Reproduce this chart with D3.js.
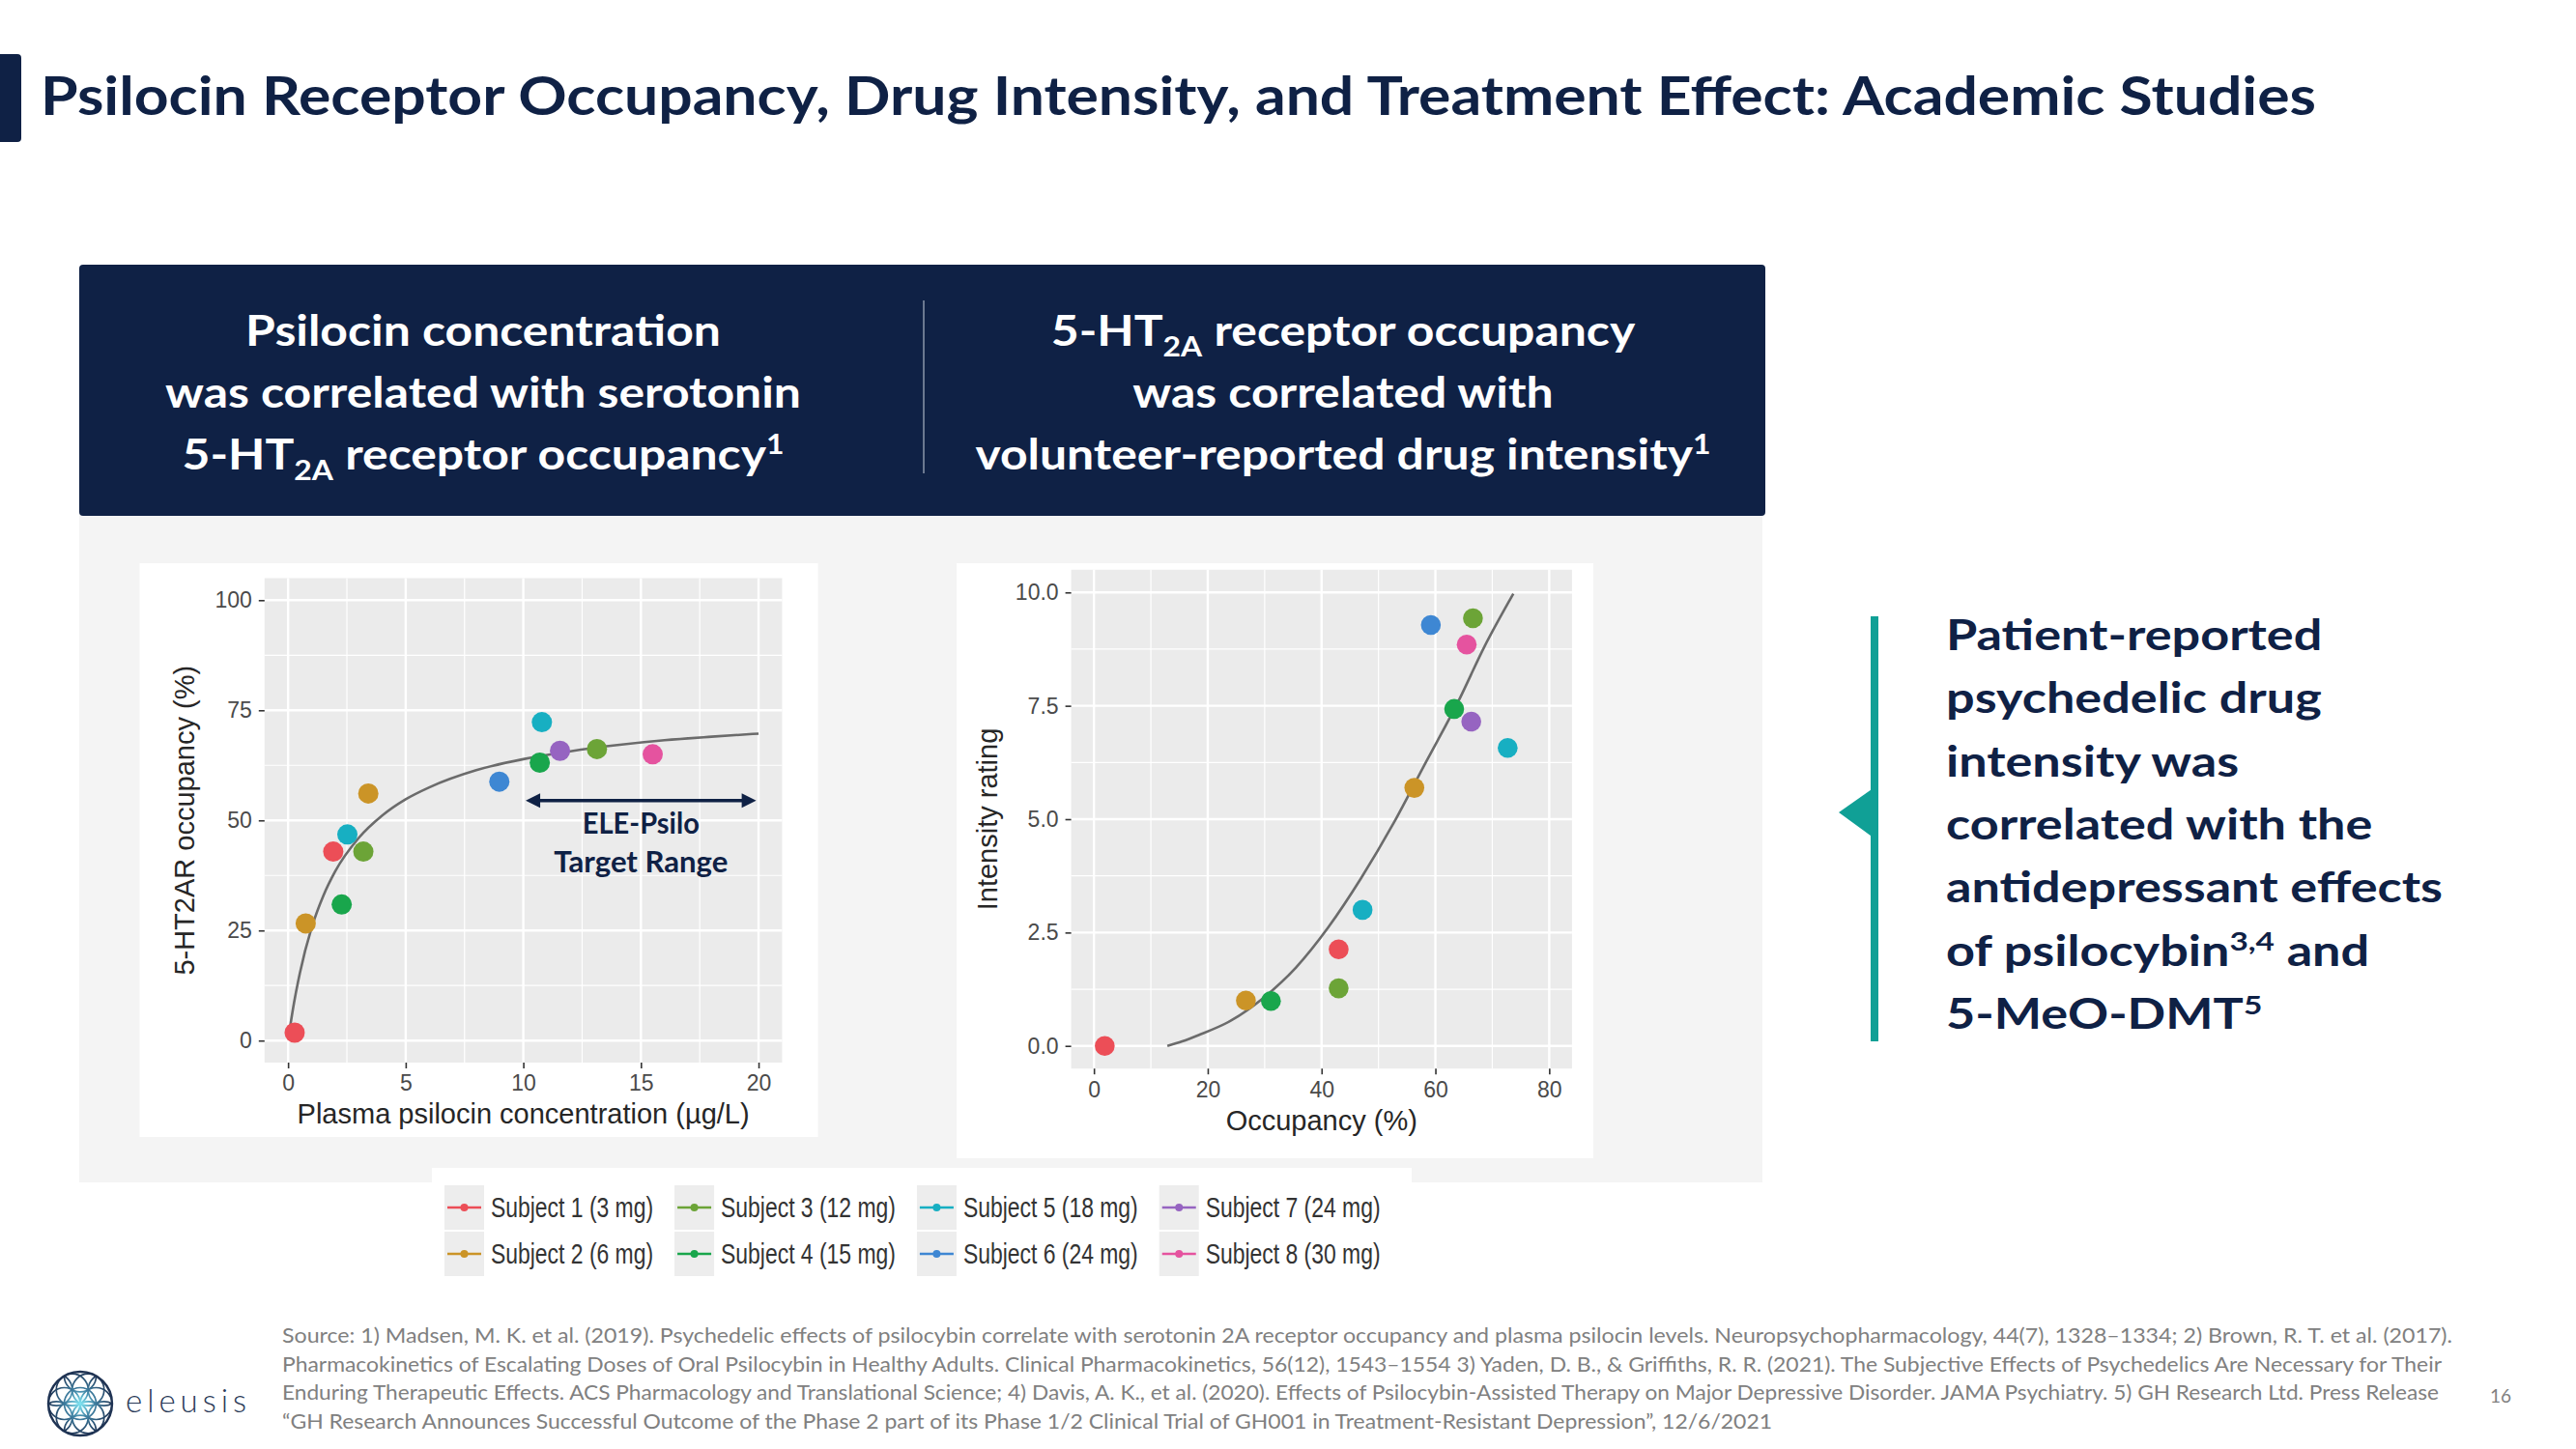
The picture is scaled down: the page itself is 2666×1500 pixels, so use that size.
<!DOCTYPE html>
<html><head><meta charset="utf-8">
<script src="https://cdn.jsdelivr.net/npm/d3@7"></script>
<style>
html,body{margin:0;padding:0;background:#fff;}
svg{display:block;}
</style></head><body>
<svg id="chart" width="2666" height="1500"></svg>
<script>
// ---------------- DATA ----------------
const subjects = ["Subject 1 (3 mg)", "Subject 2 (6 mg)", "Subject 3 (12 mg)", "Subject 4 (15 mg)",
                  "Subject 5 (18 mg)", "Subject 6 (24 mg)", "Subject 7 (24 mg)", "Subject 8 (30 mg)"];
const subjectColors = ["#EC4E57", "#CB9427", "#6CA437", "#19A64C", "#17AFC2", "#3E87D3", "#9664C1", "#E5539F"];

// Chart 1: plasma psilocin concentration vs 5-HT2AR occupancy
const conc1Subject = [0, 0, 1, 1, 2, 2, 3, 3, 4, 4, 5, 6, 7];
const conc1Values  = [0.28, 1.92, 0.75, 3.41, 3.2, 13.13, 2.28, 10.7, 2.52, 10.79, 8.98, 11.56, 15.5];
const occ1Values   = [1.8, 42.9, 26.6, 56.1, 42.9, 66.2, 30.9, 63.1, 46.8, 72.3, 58.8, 65.8, 65.0];
const fit1X = [0.05, 0.25, 0.5, 1, 1.5, 2, 3, 4, 5, 6, 8, 10, 12, 14, 16, 18, 20];
const fit1Y = [1.9, 8.5, 15.3, 25.6, 32.9, 38.4, 46.0, 51.1, 54.8, 57.5, 61.4, 63.9, 65.7, 67.1, 68.2, 69.0, 69.7];
const ticks1X = [0, 5, 10, 15, 20];
const ticks1Y = [0, 25, 50, 75, 100];
const targetRange = [10.1, 19.9];
const targetRangeY = 54.5;
const targetLabel = ["ELE-Psilo", "Target Range"];

// Chart 2: occupancy vs intensity rating
const occ2Subject = [0, 0, 1, 1, 2, 2, 3, 3, 4, 4, 5, 6, 7];
const occ2Values  = [1.9, 43.0, 26.7, 56.3, 43.0, 66.6, 31.1, 63.3, 47.2, 72.7, 59.2, 66.3, 65.5];
const intensityValues = [0.0, 2.13, 1.0, 5.69, 1.27, 9.43, 0.99, 7.43, 3.0, 6.57, 9.28, 7.15, 8.85];
const fit2X = [12.9, 15.5, 18.4, 24.1, 29.8, 35.5, 41.2, 46.9, 52.6, 58.3, 64.0, 68.6, 73.7];
const fit2Y = [0.0, 0.1, 0.24, 0.56, 1.06, 1.73, 2.62, 3.69, 4.90, 6.25, 7.59, 8.80, 9.97];
const ticks2X = [0, 20, 40, 60, 80];
const ticks2Y = [0, 2.5, 5, 7.5, 10];

// Texts
const titleText = "Psilocin Receptor Occupancy, Drug Intensity, and Treatment Effect: Academic Studies";
const headerLeft = [
  [{t: "Psilocin concentration"}],
  [{t: "was correlated with serotonin"}],
  [{t: "5-HT"}, {t: "2A", sub: true}, {t: " receptor occupancy"}, {t: "1", sup: true}]
];
const headerRight = [
  [{t: "5-HT"}, {t: "2A", sub: true}, {t: " receptor occupancy"}],
  [{t: "was correlated with"}],
  [{t: "volunteer-reported drug intensity"}, {t: "1", sup: true}]
];
const sideText = [
  [{t: "Patient-reported"}],
  [{t: "psychedelic drug"}],
  [{t: "intensity was"}],
  [{t: "correlated with the"}],
  [{t: "antidepressant effects"}],
  [{t: "of psilocybin"}, {t: "3,4", sup: true}, {t: " and"}],
  [{t: "5-MeO-DMT"}, {t: "5", sup: true}]
];
const sourceLines = [
  "Source: 1) Madsen, M. K. et al. (2019). Psychedelic effects of psilocybin correlate with serotonin 2A receptor occupancy and plasma psilocin levels. Neuropsychopharmacology, 44(7), 1328\u20131334; 2) Brown, R. T. et al. (2017).",
  "Pharmacokinetics of Escalating Doses of Oral Psilocybin in Healthy Adults. Clinical Pharmacokinetics, 56(12), 1543\u20131554 3) Yaden, D. B., & Griffiths, R. R. (2021). The Subjective Effects of Psychedelics Are Necessary for Their",
  "Enduring Therapeutic Effects. ACS Pharmacology and Translational Science; 4) Davis, A. K., et al. (2020). Effects of Psilocybin-Assisted Therapy on Major Depressive Disorder. JAMA Psychiatry. 5) GH Research Ltd. Press Release",
  "\u201CGH Research Announces Successful Outcome of the Phase 2 part of its Phase 1/2 Clinical Trial of GH001 in Treatment-Resistant Depression\u201D, 12/6/2021"
];
const sourceWidths = [2246, 2235, 2232, 1542];
const pageNumber = "16";

// ---------------- STYLE ----------------
const NAVY = "#0f2145";
const TEAL = "#10A096";
const FONT_UI = "Lato, 'Open Sans', 'Noto Sans', sans-serif";
const FONT_CHART = "'Liberation Sans', Arial, sans-serif";

const svg = d3.select("#chart");

function squeezeTo(el, target) {
  const w = el.getComputedTextLength();
  el.setAttribute("textLength", target);
  el.setAttribute("lengthAdjust", "spacingAndGlyphs");
  return target / w;
}
function squeezeBy(el, f) {
  const w = el.getComputedTextLength();
  el.setAttribute("textLength", w * f);
  el.setAttribute("lengthAdjust", "spacingAndGlyphs");
  return w * f;
}
function richText(parent, x, y, segs, size, anchor, fill, weight) {
  const t = parent.append("text").attr("x", x).attr("y", y)
    .attr("text-anchor", anchor).attr("font-family", FONT_UI)
    .attr("font-weight", weight).attr("font-size", size).attr("fill", fill);
  let shift = 0;
  segs.forEach(s => {
    const ts = t.append("tspan").text(s.t);
    const target = s.sub ? size * 0.26 : (s.sup ? -size * 0.36 : 0);
    const dy = target - shift; shift = target;
    if (dy) ts.attr("dy", dy);
    if (s.sub || s.sup) ts.attr("font-size", size * 0.64);
  });
  return t;
}

function draw() {
  svg.append("rect").attr("width", 2666).attr("height", 1500).attr("fill", "#fff");

  // Title
  svg.append("rect").attr("x", -6).attr("y", 56).attr("width", 28).attr("height", 91).attr("rx", 4).attr("fill", NAVY);
  const title = svg.append("text").attr("x", 42).attr("y", 119)
    .attr("font-family", FONT_UI).attr("font-weight", 700).attr("font-size", 55)
    .attr("fill", NAVY).text(titleText);
  squeezeTo(title.node(), 2355);

  // Grey background area and header box
  svg.append("rect").attr("x", 82).attr("y", 530).attr("width", 1742).attr("height", 694).attr("fill", "#F4F4F4");
  svg.append("rect").attr("x", 82).attr("y", 274).attr("width", 1745).attr("height", 260).attr("rx", 4).attr("fill", NAVY);
  svg.append("line").attr("x1", 956).attr("x2", 956).attr("y1", 311).attr("y2", 490)
    .attr("stroke", "#8b96aa").attr("stroke-width", 1.5);

  const hdr = svg.append("g");
  const hBase = [358, 422, 486];
  const refT = richText(hdr, 500, hBase[1], headerLeft[1], 44, "middle", "#fff", 700);
  const hf = squeezeTo(refT.node(), 658);
  [0, 2].forEach(i => squeezeBy(richText(hdr, 500, hBase[i], headerLeft[i], 44, "middle", "#fff", 700).node(), hf));
  [0, 1, 2].forEach(i => squeezeBy(richText(hdr, 1390, hBase[i], headerRight[i], 44, "middle", "#fff", 700).node(), hf));

  // Chart white boxes
  svg.append("rect").attr("x", 144.5).attr("y", 583).attr("width", 702).attr("height", 594).attr("fill", "#fff");
  svg.append("rect").attr("x", 990).attr("y", 583).attr("width", 659).attr("height", 616).attr("fill", "#fff");

  function panel(cfg) {
    const x = d3.scaleLinear().domain(cfg.xDomain).range([cfg.left, cfg.right]);
    const y = d3.scaleLinear().domain(cfg.yDomain).range([cfg.bottom, cfg.top]);
    const g = svg.append("g");
    g.append("rect").attr("x", cfg.left).attr("y", cfg.top)
      .attr("width", cfg.right - cfg.left).attr("height", cfg.bottom - cfg.top).attr("fill", "#EBEBEB");
    const minorX = d3.pairs(cfg.xTicks).map(([a, b]) => (a + b) / 2);
    const minorY = d3.pairs(cfg.yTicks).map(([a, b]) => (a + b) / 2);
    g.selectAll(".mnx").data(minorX).join("line").attr("x1", d => x(d)).attr("x2", d => x(d))
      .attr("y1", cfg.top).attr("y2", cfg.bottom).attr("stroke", "#fff").attr("stroke-width", 1.2);
    g.selectAll(".mny").data(minorY).join("line").attr("y1", d => y(d)).attr("y2", d => y(d))
      .attr("x1", cfg.left).attr("x2", cfg.right).attr("stroke", "#fff").attr("stroke-width", 1.2);
    g.selectAll(".mjx").data(cfg.xTicks).join("line").attr("x1", d => x(d)).attr("x2", d => x(d))
      .attr("y1", cfg.top).attr("y2", cfg.bottom).attr("stroke", "#fff").attr("stroke-width", 2.4);
    g.selectAll(".mjy").data(cfg.yTicks).join("line").attr("y1", d => y(d)).attr("y2", d => y(d))
      .attr("x1", cfg.left).attr("x2", cfg.right).attr("stroke", "#fff").attr("stroke-width", 2.4);

    const ax = g.append("g").attr("transform", `translate(0,${cfg.bottom})`)
      .call(d3.axisBottom(x).tickValues(cfg.xTicks).tickSize(6).tickPadding(7).tickFormat(cfg.xFmt));
    const ay = g.append("g").attr("transform", `translate(${cfg.left},0)`)
      .call(d3.axisLeft(y).tickValues(cfg.yTicks).tickSize(6).tickPadding(7).tickFormat(cfg.yFmt));
    [ax, ay].forEach(a => {
      a.select(".domain").remove();
      a.attr("font-family", FONT_CHART).attr("font-size", 23);
      a.selectAll("line").attr("stroke", "#333").attr("stroke-width", 1.6);
      a.selectAll("text").attr("fill", "#4a4a4a");
    });
    g.append("text").attr("x", (cfg.left + cfg.right) / 2).attr("y", cfg.xTitleY).attr("dy", "0.35em")
      .attr("text-anchor", "middle").attr("font-family", FONT_CHART).attr("font-size", 29)
      .attr("fill", "#262626").text(cfg.xTitle);
    g.append("text").attr("transform", `translate(${cfg.yTitleX},${(cfg.top + cfg.bottom) / 2}) rotate(-90)`)
      .attr("dy", "0.35em").attr("text-anchor", "middle").attr("font-family", FONT_CHART).attr("font-size", 29)
      .attr("fill", "#262626").text(cfg.yTitle);
    return {x, y, g};
  }

  // ---- Chart 1 ----
  const c1 = panel({
    xDomain: [-1, 21], yDomain: [-5, 105], left: 273.8, right: 809.4, top: 598.5, bottom: 1100,
    xTicks: ticks1X, yTicks: ticks1Y, xFmt: d3.format("d"), yFmt: d3.format("d"),
    xTitle: "Plasma psilocin concentration (\u00B5g/L)", yTitle: "5-HT2AR occupancy (%)",
    xTitleY: 1153, yTitleX: 191
  });
  c1.g.append("path").datum(d3.zip(fit1X, fit1Y))
    .attr("d", d3.line().x(d => c1.x(d[0])).y(d => c1.y(d[1])).curve(d3.curveMonotoneX))
    .attr("fill", "none").attr("stroke", "#6b6b6b").attr("stroke-width", 2.6);
  c1.g.selectAll(".pt").data(d3.range(conc1Values.length)).join("circle")
    .attr("cx", i => c1.x(conc1Values[i])).attr("cy", i => c1.y(occ1Values[i])).attr("r", 10.5)
    .attr("fill", i => subjectColors[conc1Subject[i]]);
  // target range arrow
  const ax1 = c1.x(targetRange[0]), ax2 = c1.x(targetRange[1]), ay = c1.y(targetRangeY);
  c1.g.append("line").attr("x1", ax1 + 10).attr("x2", ax2 - 10).attr("y1", ay).attr("y2", ay)
    .attr("stroke", NAVY).attr("stroke-width", 3.5);
  c1.g.append("path").attr("d", `M${ax1},${ay} L${ax1 + 15},${ay - 7.5} L${ax1 + 15},${ay + 7.5} Z`).attr("fill", NAVY);
  c1.g.append("path").attr("d", `M${ax2},${ay} L${ax2 - 15},${ay - 7.5} L${ax2 - 15},${ay + 7.5} Z`).attr("fill", NAVY);
  const lblX = c1.x((targetRange[0] + targetRange[1]) / 2);
  const l1 = c1.g.append("text").attr("x", lblX).attr("y", c1.y(49.3)).attr("dy", "0.36em")
    .attr("text-anchor", "middle").attr("font-family", FONT_UI).attr("font-weight", 700)
    .attr("font-size", 30).attr("fill", NAVY).text(targetLabel[0]);
  squeezeTo(l1.node(), 121);
  const l2 = c1.g.append("text").attr("x", lblX).attr("y", c1.y(40.5)).attr("dy", "0.36em")
    .attr("text-anchor", "middle").attr("font-family", FONT_UI).attr("font-weight", 700)
    .attr("font-size", 30).attr("fill", NAVY).text(targetLabel[1]);
  squeezeTo(l2.node(), 180);

  // ---- Chart 2 ----
  const c2 = panel({
    xDomain: [-4, 84], yDomain: [-0.5, 10.5], left: 1108.6, right: 1626.9, top: 589.8, bottom: 1106.2,
    xTicks: ticks2X, yTicks: ticks2Y, xFmt: d3.format("d"), yFmt: d3.format(".1f"),
    xTitle: "Occupancy (%)", yTitle: "Intensity rating",
    xTitleY: 1160, yTitleX: 1022
  });
  c2.g.append("path").datum(d3.zip(fit2X, fit2Y))
    .attr("d", d3.line().x(d => c2.x(d[0])).y(d => c2.y(d[1])).curve(d3.curveMonotoneX))
    .attr("fill", "none").attr("stroke", "#6b6b6b").attr("stroke-width", 2.6);
  c2.g.selectAll(".pt").data(d3.range(occ2Values.length)).join("circle")
    .attr("cx", i => c2.x(occ2Values[i])).attr("cy", i => c2.y(intensityValues[i])).attr("r", 10.3)
    .attr("fill", i => subjectColors[occ2Subject[i]]);

  // ---- Legend ----
  svg.append("rect").attr("x", 447).attr("y", 1209).attr("width", 1014).attr("height", 117).attr("fill", "#fff");
  const lg = svg.append("g");
  const keyW = 41, keyH = 46, rowTop = [1227, 1275];
  let kx = 460;
  for (let c = 0; c < 4; c++) {
    let maxW = 0;
    [0, 1].forEach(r => {
      const i = c * 2 + r;
      const ky = rowTop[r];
      lg.append("rect").attr("x", kx).attr("y", ky).attr("width", keyW).attr("height", keyH).attr("fill", "#EDEDED");
      lg.append("line").attr("x1", kx + 3).attr("x2", kx + keyW - 3).attr("y1", ky + keyH / 2).attr("y2", ky + keyH / 2)
        .attr("stroke", subjectColors[i]).attr("stroke-width", 2.6);
      lg.append("circle").attr("cx", kx + keyW / 2).attr("cy", ky + keyH / 2).attr("r", 4).attr("fill", subjectColors[i]);
      const t = lg.append("text").attr("x", kx + keyW + 7).attr("y", ky + keyH / 2 + 10)
        .attr("font-family", FONT_CHART).attr("font-size", 29).attr("fill", "#333").text(subjects[i]);
      maxW = Math.max(maxW, squeezeBy(t.node(), 0.79));
    });
    kx += keyW + 7 + maxW + 22;
  }

  // ---- Side text ----
  svg.append("rect").attr("x", 1936).attr("y", 638).attr("width", 8).attr("height", 440).attr("fill", TEAL);
  svg.append("path").attr("d", "M1903,841 L1940,815 L1940,868 Z").attr("fill", TEAL);
  const side = svg.append("g");
  const sRef = richText(side, 2014, 672.7 + 4 * 65.4, sideText[4], 43, "start", NAVY, 700);
  const sf = squeezeTo(sRef.node(), 514);
  sideText.forEach((segs, i) => {
    if (i === 4) return;
    squeezeBy(richText(side, 2014, 672.7 + i * 65.4, segs, 43, "start", NAVY, 700).node(), sf);
  });

  // ---- Source footnote ----
  const src = svg.append("g");
  const s0 = src.append("text").attr("x", 292).attr("y", 1390).attr("font-family", FONT_UI)
    .attr("font-size", 21).attr("fill", "#808080").text(sourceLines[0]);
  squeezeTo(s0.node(), sourceWidths[0]);
  sourceLines.slice(1).forEach((s, i) => {
    const t = src.append("text").attr("x", 292).attr("y", 1390 + (i + 1) * 29.6).attr("font-family", FONT_UI)
      .attr("font-size", 21).attr("fill", "#808080").text(s);
    squeezeTo(t.node(), sourceWidths[i + 1]);
  });
  svg.append("text").attr("x", 2588).attr("y", 1452).attr("text-anchor", "middle").attr("font-family", FONT_UI)
    .attr("font-size", 19).attr("fill", "#808080").text(pageNumber);

  // ---- Logo ----
  const defs = svg.append("defs");
  const rg = defs.append("radialGradient").attr("id", "logoGrad").attr("gradientUnits", "userSpaceOnUse")
    .attr("cx", 0).attr("cy", 0).attr("r", 34);
  rg.append("stop").attr("offset", "0%").attr("stop-color", "#7fe6f3");
  rg.append("stop").attr("offset", "45%").attr("stop-color", "#3d7d9f");
  rg.append("stop").attr("offset", "100%").attr("stop-color", "#1f3353");
  const gl = defs.append("radialGradient").attr("id", "logoGlow");
  gl.append("stop").attr("offset", "0%").attr("stop-color", "#b8f6ff").attr("stop-opacity", 0.9);
  gl.append("stop").attr("offset", "100%").attr("stop-color", "#b8f6ff").attr("stop-opacity", 0);
  defs.append("clipPath").attr("id", "logoClip").append("circle").attr("r", 33);
  const logo = svg.append("g").attr("transform", "translate(83,1453)");
  logo.append("circle").attr("r", 11).attr("fill", "url(#logoGlow)");
  const petals = logo.append("g").attr("clip-path", "url(#logoClip)");
  const R = 33, r = R / 2;
  const centers = [[0, 0]].concat(d3.range(6).map(k => [r * Math.cos(k * Math.PI / 3), r * Math.sin(k * Math.PI / 3)]))
    .concat(d3.range(6).map(k => [r * Math.sqrt(3) * Math.cos(Math.PI / 6 + k * Math.PI / 3), r * Math.sqrt(3) * Math.sin(Math.PI / 6 + k * Math.PI / 3)]));
  petals.selectAll("circle").data(centers).join("circle").attr("cx", d => d[0]).attr("cy", d => d[1]).attr("r", r)
    .attr("fill", "none").attr("stroke", "url(#logoGrad)").attr("stroke-width", 1.7);
  logo.append("circle").attr("r", R).attr("fill", "none").attr("stroke", "#1f3353").attr("stroke-width", 2.4);
  const brand = svg.append("text").attr("x", 130).attr("y", 1462).attr("font-family", FONT_UI).attr("font-weight", 300)
    .attr("font-size", 33).attr("fill", "#2a3a58").text("eleusis");
  brand.attr("textLength", 125).attr("lengthAdjust", "spacing");
}

if (document.fonts && document.fonts.ready) document.fonts.ready.then(draw); else draw();
</script>
</body></html>
